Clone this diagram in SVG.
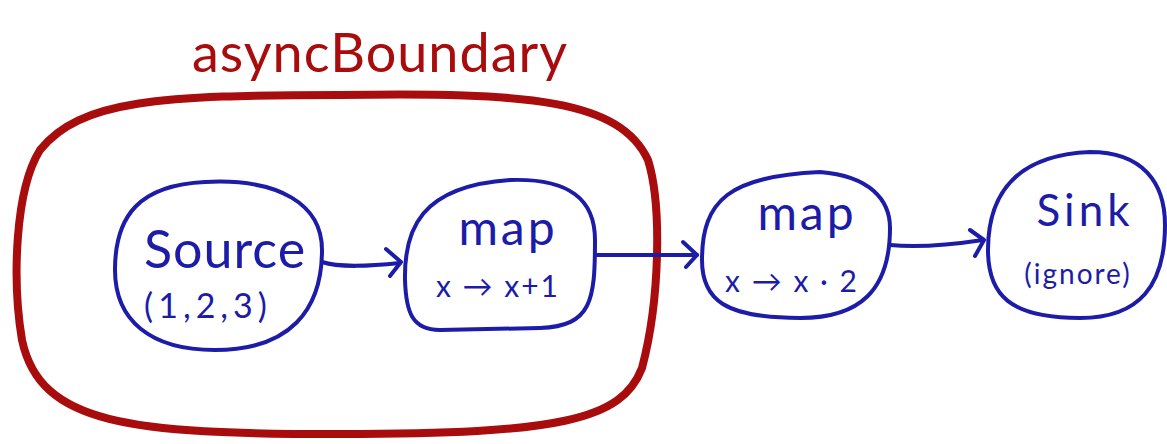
<svg xmlns="http://www.w3.org/2000/svg" width="1167" height="444" viewBox="0 0 1167 444">
<style>
.node{fill:none;stroke:#1c1ca8;stroke-width:4;stroke-linecap:round;stroke-linejoin:round}
.edge{fill:none;stroke:#1c1ca8;stroke-width:4;stroke-linecap:round;stroke-linejoin:round}
.bnd{fill:none;stroke:#a80c0c;stroke-width:8;stroke-linecap:round}
.t{font-family:Lato,"Liberation Sans",sans-serif;fill:#1c1ca8;text-anchor:middle}
.rt{font-family:Lato,"Liberation Sans",sans-serif;fill:#a80c0c;text-anchor:middle}
</style>
<rect width="1167" height="444" fill="#fff"/>
<g id="boundary">
<path class="bnd" d="M340,95 C530,92 620,100 648,160 C662,205 660,300 642,368 C622,420 560,434 340,434 C130,434 40,425 22,340 C12,280 15,190 40,150 C80,100 160,95 340,95 Z"/>
<text class="rt" x="380" y="72" font-size="54" letter-spacing="1">asyncBoundary</text>
</g>
<g id="connectors">
<path class="edge" d="M322,262 C340,268 370,266 400,263"/>
<path class="edge" d="M386,249 L401,262 L390,276"/>
<path class="edge" d="M595,255 L697,255"/>
<path class="edge" d="M683,242 L697,255 L686,267"/>
<path class="edge" d="M890,245 C920,248 950,245 983,240"/>
<path class="edge" d="M970,230 L984,240 L975,256"/>
</g>
<g id="source">
<path class="node" d="M205,182 C280,178 322,205 322,250 C322,310 290,350 215,350 C150,350 115,320 115,270 C115,215 140,185 205,182 Z"/>
<text class="t" x="225" y="268" font-size="52" letter-spacing="1">Source</text>
<text class="t" x="208" y="318" font-size="34" letter-spacing="5">(1,2,3)</text>
</g>
<g id="map1">
<path class="node" d="M510,180 C570,178 595,200 595,240 C595,300 592,326 540,328 L440,330 C412,330 406,312 405,280 C404,230 420,186 510,180 Z"/>
<text class="t" x="508" y="245" font-size="48" letter-spacing="3">map</text>
<text class="t" x="498" y="297" font-size="30" letter-spacing="2">x → x+1</text>
</g>
<g id="map2">
<path class="node" d="M820,172 C870,176 890,200 890,228 C890,290 860,318 800,318 C725,318 702,300 702,260 C702,200 730,176 820,172 Z"/>
<text class="t" x="807" y="230" font-size="48" letter-spacing="3">map</text>
<text class="t" x="792" y="292" font-size="30" letter-spacing="2">x → x · 2</text>
</g>
<g id="sink">
<path class="node" d="M1090,152 C1142,152 1165,182 1165,225 C1165,285 1140,318 1080,318 C1010,318 988,295 988,250 C988,190 1020,155 1090,152 Z"/>
<text class="t" x="1085" y="226" font-size="44" letter-spacing="4">Sink</text>
<text class="t" x="1078" y="284" font-size="28" letter-spacing="2">(ignore)</text>
</g>
</svg>
